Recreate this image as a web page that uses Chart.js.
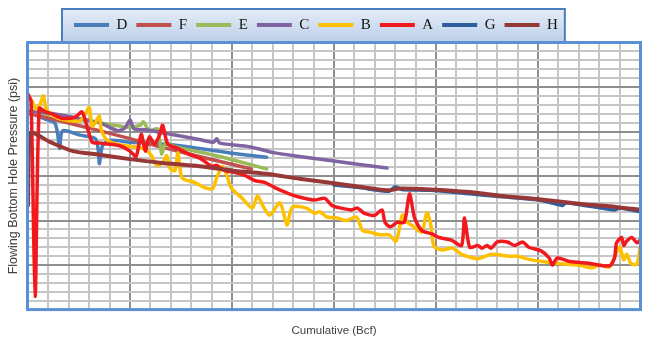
<!DOCTYPE html>
<html>
<head>
<meta charset="utf-8">
<script src="https://cdn.jsdelivr.net/npm/chart.js@4.4.0/dist/chart.umd.min.js"></script>
<style>
  html, body { margin: 0; padding: 0; background: #fff; }
</style>
</head>
<body>
<canvas id="fbhpChart" width="650" height="339"></canvas>
<script>
// Cumulative gas (Bcf) vs flowing bottom hole pressure (psi), one [x, y] list per well
const wellD = [[0.02,2210],[0.17,2140],[0.26,2100],[0.29,1980],[0.31,1810],[0.34,2010],[0.51,1960],[0.66,1920],
    [0.69,1780],[0.70,1640],[0.73,1840],[0.80,1900],[1.00,1880],[1.34,1860],[1.68,1810],[1.98,1760],[2.34,1710]];
const wellF = [[0.02,2200],[0.31,2120],[0.70,2010],[1.00,1920],[1.29,1830],[1.68,1720],[2.19,1580]];
const wellE = [[0.02,2230],[0.31,2170],[0.70,2100],[0.97,2050],[1.10,2070],[1.13,2110],[1.19,2010],[1.27,2030],
    [1.31,1750],[1.35,1870],[1.44,1830],[1.88,1720],[2.34,1580]];
const wellC = [[0.02,2230],[0.31,2190],[0.48,2150],[0.70,2100],[0.88,2010],[0.95,2040],[1.00,2130],[1.04,2030],
    [1.15,2020],[1.44,1960],[1.68,1910],[1.82,1880],[1.85,1920],[1.88,1870],[2.17,1830],[2.42,1760],[2.66,1720],
    [3.00,1670],[3.25,1630],[3.52,1590]];
const wellB = [[0.00,2390],[0.04,2340],[0.08,2250],[0.12,2310],[0.15,2400],[0.18,2250],[0.23,2190],[0.29,2150],
    [0.41,2120],[0.51,2120],[0.57,2210],[0.60,2270],[0.63,2060],[0.67,2120],[0.70,2170],[0.72,2010],[0.78,1900],
    [0.90,1850],[1.10,1820],[1.17,1780],[1.21,1730],[1.26,1620],[1.32,1650],[1.36,1730],[1.39,1590],[1.44,1560],
    [1.47,1760],[1.51,1480],[1.63,1430],[1.73,1370],[1.81,1360],[1.85,1480],[1.91,1610],[1.95,1510],[1.99,1370],
    [2.10,1250],[2.20,1140],[2.25,1280],[2.30,1170],[2.37,1060],[2.47,1200],[2.54,950],[2.59,1150],[2.73,1140],
    [2.81,1080],[2.86,1100],[2.93,1040],[3.03,1030],[3.12,1000],[3.22,1040],[3.28,890],[3.35,870],[3.45,840],
    [3.54,840],[3.61,770],[3.67,1060],[3.72,980],[3.76,950],[3.86,870],[3.91,1090],[3.95,950],[3.98,710],
    [4.06,670],[4.16,690],[4.25,620],[4.33,590],[4.41,570],[4.54,620],[4.72,600],[4.80,600],[4.89,570],
    [5.04,540],[5.28,510],[5.40,500],[5.53,470],[5.60,500],[5.70,480],[5.80,700],[5.84,560],[5.87,620],
    [5.91,520],[5.97,510],[6.00,700]];
const wellA = [[0.00,2420],[0.03,2340],[0.07,150],[0.11,2260],[0.17,2220],[0.23,2200],[0.33,2150],[0.46,2160],
    [0.53,2220],[0.59,2010],[0.63,1880],[0.70,1870],[0.90,1840],[1.00,1780],[1.06,1720],[1.11,1970],[1.15,1780],
    [1.19,1940],[1.24,1860],[1.29,1960],[1.32,2070],[1.37,1860],[1.47,1810],[1.57,1750],[1.70,1690],[1.80,1610],
    [1.85,1620],[1.93,1560],[2.03,1540],[2.12,1510],[2.22,1450],[2.32,1430],[2.42,1370],[2.52,1320],[2.61,1280],
    [2.71,1250],[2.81,1230],[2.91,1250],[2.98,1170],[3.07,1140],[3.17,1120],[3.23,1140],[3.30,1080],[3.40,1060],
    [3.47,1120],[3.50,980],[3.55,930],[3.62,980],[3.69,980],[3.74,1300],[3.79,1030],[3.86,890],[3.96,850],
    [4.03,810],[4.15,780],[4.25,720],[4.28,1030],[4.33,700],[4.41,720],[4.45,690],[4.50,720],[4.54,690],
    [4.60,760],[4.70,760],[4.77,720],[4.85,760],[4.91,700],[5.03,660],[5.11,580],[5.14,500],[5.19,580],
    [5.31,540],[5.50,520],[5.70,490],[5.75,580],[5.77,750],[5.82,810],[5.84,720],[5.87,770],[5.92,810],
    [5.97,750],[6.00,780]];
const wellG = [[3.00,1400],[3.25,1370],[3.54,1330],[3.60,1380],[3.66,1350],[3.94,1340],[4.33,1300],[4.62,1270],
    [5.01,1230],[5.24,1170],[5.27,1200],[5.40,1180],[5.75,1120],[5.80,1140],[6.00,1100]];
const wellH = [[0.00,1170],[0.02,1980],[0.22,1880],[0.44,1780],[0.70,1740],[1.00,1690],[1.29,1650],[1.68,1610],
    [2.01,1560],[2.37,1520],[2.66,1470],[3.00,1420],[3.25,1380],[3.54,1340],[3.64,1360],[3.94,1350],[4.33,1320],
    [4.62,1280],[5.01,1240],[5.40,1190],[5.70,1160],[6.00,1120]];

const wells = [
    { label: 'D', points: wellD, color: '#4a7ebb' },
    { label: 'F', points: wellF, color: '#c0504d' },
    { label: 'E', points: wellE, color: '#9bbb59' },
    { label: 'C', points: wellC, color: '#8064a2' },
    { label: 'B', points: wellB, color: '#ffc000' },
    { label: 'A', points: wellA, color: '#f2191e' },
    { label: 'G', points: wellG, color: '#2e5e9e' },
    { label: 'H', points: wellH, color: '#973836' }
];

// Excel draws later series on top, Chart.js draws lower "order" on top
const datasets = wells.map((w, i) => ({
    label: w.label,
    data: w.points.map(p => ({ x: p[0], y: p[1] })),
    borderColor: w.color,
    backgroundColor: w.color,
    borderWidth: w.label === 'H' ? 4 : 3.5,
    pointRadius: 0,
    tension: 0.25,
    borderJoinStyle: 'round',
    borderCapStyle: 'round',
    order: wells.length - i
}));

const chartFrame = {
    id: 'chartFrame',
    afterLayout(chart) {
        // legend sits a little left of centre in the original
        chart.legend.left = 65;
    },
    beforeDraw(chart) {
        const legend = chart.legend;
        const boxes = legend.legendHitBoxes;
        if (!boxes || !boxes.length) return;
        const ctx = chart.ctx;
        const last = boxes[boxes.length - 1];
        const x0 = boxes[0].left - 12;
        const x1 = last.left + last.width + 7;
        const y0 = legend.top + 0.5;
        const y1 = chart.chartArea.top;
        const grad = ctx.createLinearGradient(0, y0, 0, y1);
        grad.addColorStop(0, '#e4ecf7');
        grad.addColorStop(1, '#bcd0ea');
        ctx.save();
        ctx.fillStyle = grad;
        ctx.fillRect(x0, y0, x1 - x0, y1 - y0);
        ctx.strokeStyle = '#4a7ebb';
        ctx.lineWidth = 2;
        ctx.strokeRect(x0, y0, x1 - x0, y1 - y0);
        ctx.restore();
    },
    afterDraw(chart) {
        const { ctx, chartArea: a } = chart;
        ctx.save();
        ctx.strokeStyle = '#5b8fd6';
        ctx.lineWidth = 3;
        ctx.strokeRect(a.left - 0.5, a.top, a.right - a.left + 1, a.bottom - a.top);
        ctx.restore();
    }
};

const minorGrid = '#c6c6c6';
const majorGrid = '#8f8f8f';

new Chart(document.getElementById('fbhpChart').getContext('2d'), {
    type: 'line',
    data: { datasets: datasets },
    plugins: [chartFrame],
    options: {
        responsive: false,
        animation: false,
        layout: { padding: { top: 8.5, left: 0, right: 10, bottom: 0 } },
        scales: {
            x: {
                type: 'linear',
                min: 0,
                max: 6,
                ticks: { display: false, stepSize: 0.2 },
                grid: {
                    drawTicks: false,
                    lineWidth: 2,
                    color: ctx => Math.abs(ctx.tick.value - Math.round(ctx.tick.value)) < 1e-6 ? majorGrid : minorGrid
                },
                border: { display: false },
                title: {
                    display: true,
                    text: 'Cumulative (Bcf)',
                    color: '#404040',
                    font: { family: 'Liberation Sans', size: 11.5 },
                    padding: { top: 14, bottom: 1.6 }
                }
            },
            y: {
                type: 'linear',
                min: 0,
                max: 3000,
                ticks: { display: false, stepSize: 100 },
                grid: {
                    drawTicks: false,
                    lineWidth: 2,
                    color: ctx => ctx.tick.value % 500 === 0 ? majorGrid : minorGrid
                },
                border: { display: false },
                title: {
                    display: true,
                    text: 'Flowing Bottom Hole Pressure (psi)',
                    color: '#404040',
                    font: { family: 'Liberation Sans', size: 12.5 },
                    padding: { top: 6, bottom: 7 }
                }
            }
        },
        plugins: {
            legend: {
                position: 'top',
                align: 'start',
                labels: {
                    boxWidth: 35,
                    boxHeight: 4,
                    padding: 9,
                    color: '#111',
                    font: { family: 'Liberation Serif', size: 15 },
                    sort: (a, b) => a.datasetIndex - b.datasetIndex,
                    generateLabels(chart) {
                        const items = Chart.defaults.plugins.legend.labels.generateLabels(chart);
                        items.forEach(item => { item.lineWidth = 0; });
                        return items;
                    }
                }
            },
            tooltip: { enabled: false }
        }
    }
});
</script>
</body>
</html>
